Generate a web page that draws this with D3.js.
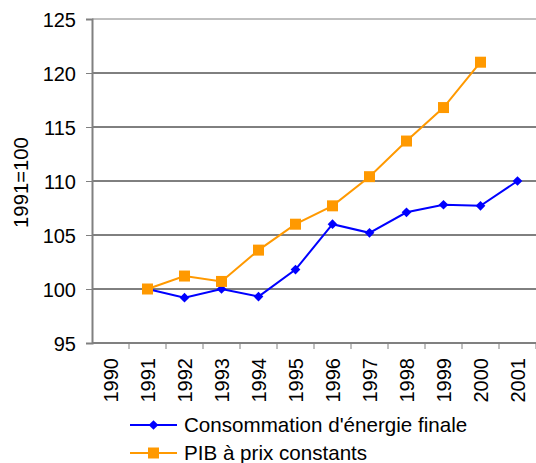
<!DOCTYPE html>
<html>
<head>
<meta charset="utf-8">
<script src="https://cdn.jsdelivr.net/npm/d3@7"></script>
<style>
  body { margin: 0; background: #fff; }
  svg { display: block; font-family: "Liberation Sans", Arial, sans-serif; }
</style>
</head>
<body>
<div id="container"></div>
<script>
// Data
var years = ["1990", "1991", "1992", "1993", "1994", "1995", "1996", "1997", "1998", "1999", "2000", "2001"];
var energie = [null, 100, 99.2, 100, 99.3, 101.8, 106.0, 105.2, 107.1, 107.8, 107.7, 110.0];
var pib = [null, 100, 101.2, 100.7, 103.6, 106.0, 107.7, 110.4, 113.7, 116.8, 121.0, null];
var yTicks = [95, 100, 105, 110, 115, 120, 125];

var width = 536, height = 463;
var margin = {left: 92, top: 19, right: 0, bottom: 120};
var fontSize = 20;

var svg = d3.select("#container")
    .append("svg")
    .attr("width", width)
    .attr("height", height);

var x = d3.scaleBand()
    .domain(years)
    .range([margin.left, width - margin.right]);

var y = d3.scaleLinear()
    .domain([95, 125])
    .range([height - margin.bottom, margin.top]);

// gridlines
svg.selectAll(".grid")
    .data(yTicks.filter(d => d > 95))
    .enter()
    .append("line")
    .attr("x1", margin.left)
    .attr("x2", width - margin.right)
    .attr("y1", d => y(d))
    .attr("y2", d => y(d))
    .attr("stroke", d => d === 125 ? "#808080" : "#000")
    .attr("stroke-width", 1);

// y axis
var yAxis = svg.append("g")
    .attr("transform", "translate(" + margin.left + ",0)")
    .call(d3.axisLeft(y).tickValues(yTicks).tickSize(6).tickPadding(10));
yAxis.select(".domain").attr("stroke", "#808080").attr("stroke-width", 2);
yAxis.selectAll(".tick line").attr("stroke", "#808080");
yAxis.selectAll("text").attr("font-size", fontSize).attr("fill", "#000")
    .attr("dy", "0.36em")
    .style("font-family", "'Liberation Sans', Arial, sans-serif");

// x axis with ticks at category boundaries
var xAxisG = svg.append("g")
    .attr("transform", "translate(0," + y(95) + ")");
xAxisG.append("line")
    .attr("x1", margin.left)
    .attr("x2", width - margin.right)
    .attr("stroke", "#808080")
    .attr("stroke-width", 2);
xAxisG.selectAll(".xtick")
    .data(years)
    .enter()
    .append("line")
    .attr("x1", d => x(d) + x.bandwidth())
    .attr("x2", d => x(d) + x.bandwidth())
    .attr("y1", 0)
    .attr("y2", 6)
    .attr("stroke", "#808080");
xAxisG.selectAll(".xlabel")
    .data(years)
    .enter()
    .append("text")
    .attr("transform", d => "translate(" + (x(d) + x.bandwidth() / 2 + 7.5) + ",15) rotate(-90)")
    .attr("text-anchor", "end")
    .attr("font-size", fontSize)
    .text(d => d);

// y axis title
svg.append("text")
    .attr("transform", "translate(28,182.5) rotate(-90)")
    .attr("text-anchor", "middle")
    .attr("font-size", 20.3)
    .text("1991=100");

var cx = d => x(d) + x.bandwidth() / 2;

function drawSeries(values, color, shape) {
    var pts = years.map((yr, i) => ({yr: yr, v: values[i]})).filter(p => p.v !== null);
    var line = d3.line().x(p => cx(p.yr)).y(p => y(p.v));
    svg.append("path")
        .datum(pts)
        .attr("fill", "none")
        .attr("stroke", color)
        .attr("stroke-width", 2)
        .attr("d", line);
    svg.selectAll(null)
        .data(pts)
        .enter()
        .append("path")
        .attr("transform", p => "translate(" + cx(p.yr) + "," + y(p.v) + ")")
        .attr("d", shape)
        .attr("fill", color);
}

var diamond = d3.symbol().type(d3.symbolDiamond2).size(60)();
var square = "M-5.5,-5.5H5.5V5.5H-5.5Z";

drawSeries(energie, "#0000ff", diamond);
drawSeries(pib, "#ff9900", square);

// legend
var legend = [
    {label: "Consommation d'énergie finale", color: "#0000ff", shape: diamond},
    {label: "PIB à prix constants", color: "#ff9900", shape: square}
];
var lg = svg.selectAll(".legend")
    .data(legend)
    .enter()
    .append("g")
    .attr("transform", (d, i) => "translate(130," + (425 + i * 28) + ")");
lg.append("line")
    .attr("x1", 0).attr("x2", 47)
    .attr("stroke", d => d.color)
    .attr("stroke-width", 2);
lg.append("path")
    .attr("transform", "translate(23.5,0)")
    .attr("d", d => d.shape)
    .attr("fill", d => d.color);
lg.append("text")
    .attr("x", 54)
    .attr("y", 7)
    .attr("font-size", 20.6)
    .text(d => d.label);
</script>
</body>
</html>
